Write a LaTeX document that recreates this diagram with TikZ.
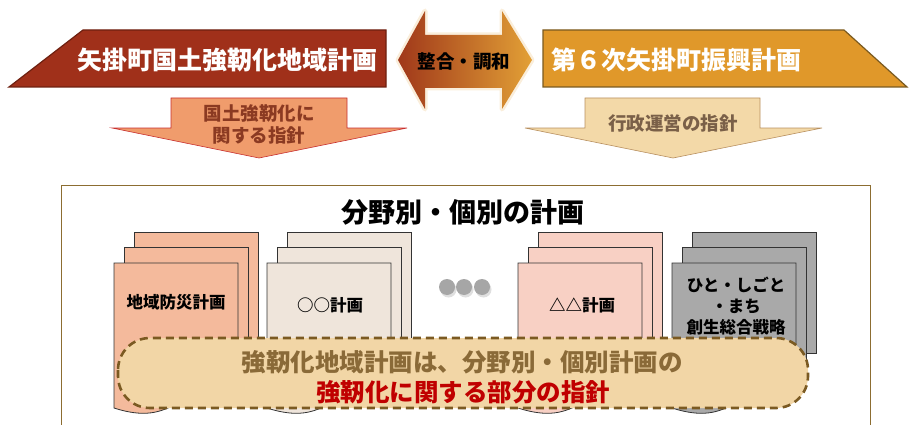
\documentclass[tikz,border=0pt]{standalone}
\usepackage{fontspec}
\setmainfont{Noto Sans CJK JP}
\usetikzlibrary{shadows}

\definecolor{bannerred}{HTML}{A0301A}
\definecolor{bannerredline}{HTML}{6E2010}
\definecolor{bannergold}{HTML}{E0982A}
\definecolor{bannergoldline}{HTML}{7A5A20}
\definecolor{arrowred}{HTML}{A0381A}
\definecolor{arrowpale}{HTML}{F2DAC6}
\definecolor{arrowgold}{HTML}{E2A036}
\definecolor{salmonarrow}{HTML}{F09C6C}
\definecolor{salmonline}{HTML}{C83030}
\definecolor{salmontext}{HTML}{8B3A22}
\definecolor{tanarrow}{HTML}{F3D9A8}
\definecolor{tanline}{HTML}{B89060}
\definecolor{tantext}{HTML}{7A6048}
\definecolor{framebrown}{HTML}{8C6D31}
\definecolor{stackA}{HTML}{F4BA9C}
\definecolor{stackB}{HTML}{EFE5DB}
\definecolor{stackC}{HTML}{F8D0C4}
\definecolor{stackD}{HTML}{A9A9A9}
\definecolor{notefill}{HTML}{F2D6A6}
\definecolor{notedash}{HTML}{7B5A22}
\definecolor{notebrown}{HTML}{8A6A38}
\definecolor{notered}{HTML}{C00000}

\begin{document}
\begin{tikzpicture}[x=1pt,y=-1pt,inner sep=0pt,
    banner text/.style={font=\bfseries\fontsize{25}{30}\selectfont, text=white},
    arrow text/.style={font=\bfseries\fontsize{18.5}{22}\selectfont, align=center},
    sheet/.style={draw=black!80, line width=0.8pt},
    sheet text/.style={font=\bfseries\fontsize{16.5}{21}\selectfont, align=center},
    note text/.style={font=\bfseries\fontsize{24.5}{30}\selectfont}]

            \useasboundingbox (0,0) rectangle (909,425);

            % top banners
            \filldraw[fill=bannerred, draw=bannerredline, line width=1.2pt]
                (83,30) -- (386,30) -- (386,87) -- (9,87) -- cycle;
            \filldraw[fill=bannergold, draw=bannergoldline, line width=1.2pt]
                (543,30) -- (844,30) -- (907,87) -- (543,87) -- cycle;
            \node[banner text] (town plan) at (227,60) {矢掛町国土強靭化地域計画};
            \node[banner text] (sixth plan) at (676,60) {第６次矢掛町振興計画};

            % double arrow in the middle
            \draw[line width=5pt, arrowgold!30, opacity=.6, line join=round]
                (398,60) -- (425,11) -- (425,35) -- (502,35) -- (502,11) -- (532,60)
                -- (502,109) -- (502,88) -- (425,88) -- (425,109) -- cycle;
            \shade[left color=arrowred, middle color=arrowpale, right color=arrowgold]
                (398,60) -- (425,11) -- (425,35) -- (502,35) -- (502,11) -- (532,60)
                -- (502,109) -- (502,88) -- (425,88) -- (425,109) -- cycle;
            \node[arrow text] (harmony) at (464,62) {整合・調和};

            % down arrows
            \filldraw[fill=salmonarrow, draw=salmonline, line width=0.6pt]
                (171,98) -- (347,98) -- (347,128) -- (407,128) -- (259,158)
                -- (112,128) -- (171,128) -- cycle;
            \filldraw[fill=tanarrow, draw=tanline, line width=0.6pt]
                (585,98) -- (760,98) -- (760,128) -- (822,128) -- (673,158)
                -- (525,128) -- (585,128) -- cycle;
            \node[arrow text, text=salmontext] (resilience guide) at (259,124) {国土強靭化に\\関する指針};
            \node[arrow text, text=tantext] (admin guide) at (673,123) {行政運営の指針};

            % frame and title
            \draw[framebrown, line width=1pt] (61,425) -- (61,185) -- (870,185) -- (870,425);
            \node[font=\bfseries\fontsize{27}{32}\selectfont] (title) at (463,212) {分野別・個別の計画};

            % stacks of plans
            \foreach \x/\c in {114/stackA, 267/stackB, 518/stackC, 672/stackD}{
                \filldraw[sheet, fill=\c] (\x+20,232) rectangle (\x+144,353);
                \filldraw[sheet, fill=\c] (\x+10,247) rectangle (\x+134,369);
                \filldraw[sheet, fill=\c] (\x,263) -- (\x+124,263) -- (\x+124,385)
                    .. controls (\x+62,385) and (\x+62,428) .. (\x,408) -- cycle;
            }
            \node[sheet text] (disaster) at (176,302) {地域防災計画};
            \node[sheet text] (circle plan) at (330,305) {○○計画};
            \node[sheet text] (triangle plan) at (582,305) {△△計画};
            \node[sheet text] (strategy) at (736,306) {ひと・しごと\\・まち\\創生総合戦略};

            % dots between the stacks
            \foreach \x in {447,464,482}
                \fill[black!35, drop shadow={shadow xshift=1.5pt, shadow yshift=-2.5pt, opacity=.25}]
                    (\x,287) circle (8);

            % dashed note
            \filldraw[fill=notefill, draw=notedash, line width=2.6pt, dash pattern=on 8pt off 5pt,
                rounded corners=32pt] (118,338) rectangle (808,408);
            \node[note text, text=notebrown] (note top) at (462,362) {強靭化地域計画は、分野別・個別計画の};
            \node[note text, text=notered] (note bottom) at (463,392) {強靭化に関する部分の指針};

        \end{tikzpicture}
\end{document}
